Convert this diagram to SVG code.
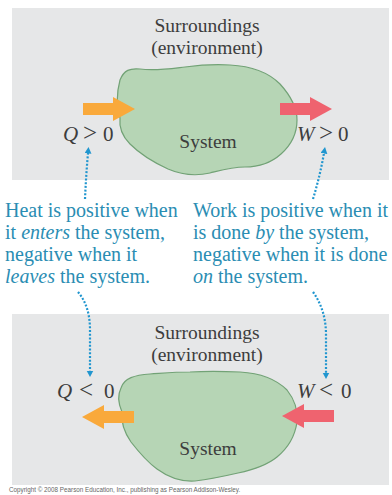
<svg xmlns="http://www.w3.org/2000/svg" width="392" height="495" viewBox="0 0 392 495">
<defs>
<style>
.panel{fill:#e6e7e8}
.blob{fill:#b6d5b5;stroke:#72a276;stroke-width:1.2}
.lbl{font-family:"Liberation Serif","Times New Roman",serif;font-size:19.5px;fill:#3d3d3d}
.math{font-family:"Liberation Serif","Times New Roman",serif;font-size:21px;fill:#3d3d3d}
.rel{font-size:25px}
.note{font-family:"Liberation Serif","Times New Roman",serif;font-size:20px;fill:#2a8db3}
.heat{fill:#f9a93b}
.work{fill:#ef636f}
.dots{fill:none;stroke:#2196cf;stroke-width:2.2;stroke-dasharray:2 1.7}
.copy{font-family:"Liberation Sans",Arial,sans-serif;font-size:6.3px;fill:#666}
</style>
<marker id="tip" markerUnits="userSpaceOnUse" markerWidth="8" markerHeight="8" refX="0.5" refY="3.5" orient="auto">
<path d="M0,0 L6.5,3.5 L0,7 z" fill="#2196cf"/>
</marker>
</defs>

<g id="top-panel">
<rect class="panel" x="12" y="8" width="377" height="172"/>
<text class="lbl" x="207" y="32" text-anchor="middle">Surroundings</text>
<text class="lbl" x="207" y="54" text-anchor="middle">(environment)</text>
</g>

<g id="top-system">
<path class="blob" d="M120,80 C124,70 130,68 140,69 C155,71 168,69 185,67 C200,65 212,64 230,65 C250,66 268,72 280,84 C290,95 297,108 297,120 C297,135 290,146 281,154 C272,162 262,167 245,167 C232,167 222,170 210,173 C197,176 182,175 168,169 C155,163 140,154 130,144 C122,136 119,127 120,118 C117,108 116,95 120,80 Z"/>
<text class="lbl" x="208" y="148" text-anchor="middle">System</text>
</g>

<g id="top-heat">
<rect class="heat" x="83" y="103" width="31" height="12"/>
<path class="heat" d="M113,97 L135,109 L113,121 Z"/>
<text class="math" y="141"><tspan x="63" font-style="italic">Q</tspan><tspan x="83" class="rel">&gt;</tspan><tspan x="103">0</tspan></text>
</g>

<g id="top-work">
<rect class="work" x="280" y="103" width="31" height="12"/>
<path class="work" d="M310,97 L332,109 L310,121 Z"/>
<text class="math" y="141"><tspan x="297" font-style="italic">W</tspan><tspan x="319" class="rel">&gt;</tspan><tspan x="338">0</tspan></text>
</g>

<g id="heat-note">
<text class="note" x="5" y="217">Heat is positive when</text>
<text class="note" x="5" y="239">it <tspan font-style="italic">enters</tspan> the system,</text>
<text class="note" x="5" y="261">negative when it</text>
<text class="note" x="5" y="283"><tspan font-style="italic">leaves</tspan> the system.</text>
</g>

<g id="work-note">
<text class="note" x="193" y="217">Work is positive when it</text>
<text class="note" x="193" y="239">is done <tspan font-style="italic">by</tspan> the system,</text>
<text class="note" x="193" y="261">negative when it is done</text>
<text class="note" x="193" y="283"><tspan font-style="italic">on</tspan> the system.</text>
</g>

<g id="bottom-panel">
<rect class="panel" x="12" y="314" width="377" height="171"/>
<text class="lbl" x="207" y="339" text-anchor="middle">Surroundings</text>
<text class="lbl" x="207" y="361" text-anchor="middle">(environment)</text>
</g>

<g id="bottom-system">
<path class="blob" d="M121,388 C124,378 135,375 150,374 C165,373 175,372 190,372 C205,371 220,371 240,372 C258,373 275,378 287,390 C295,400 298,412 297,422 C295,436 288,448 277,457 C266,466 252,470 238,473 C225,476 212,479 195,481 C180,482 168,477 157,469 C146,461 138,451 131,442 C124,432 121,422 122,412 C118,403 117,396 121,388 Z"/>
<text class="lbl" x="208" y="455" text-anchor="middle">System</text>
</g>

<g id="bottom-heat">
<rect class="heat" x="103" y="411" width="31" height="12"/>
<path class="heat" d="M104,405 L82,417 L104,429 Z"/>
<text class="math" y="398"><tspan x="57" font-style="italic">Q</tspan><tspan x="79" class="rel">&lt;</tspan><tspan x="104">0</tspan></text>
</g>

<g id="bottom-work">
<rect class="work" x="303" y="410" width="31" height="12"/>
<path class="work" d="M304,404 L282,416 L304,428 Z"/>
<text class="math" y="398"><tspan x="297" font-style="italic">W</tspan><tspan x="319" class="rel">&lt;</tspan><tspan x="341">0</tspan></text>
</g>

<g id="connectors">
<path class="dots" d="M85,199 Q86,176 88,153" marker-end="url(#tip)"/>
<path class="dots" d="M313,199 Q320,176 324,153" marker-end="url(#tip)"/>
<path class="dots" d="M78,292 Q90,306 90,330 L90,371" marker-end="url(#tip)"/>
<path class="dots" d="M313,292 Q326,310 326,335 L326,373" marker-end="url(#tip)"/>
</g>

<text class="copy" x="9" y="492">Copyright © 2008 Pearson Education, Inc., publishing as Pearson Addison-Wesley.</text>
</svg>
